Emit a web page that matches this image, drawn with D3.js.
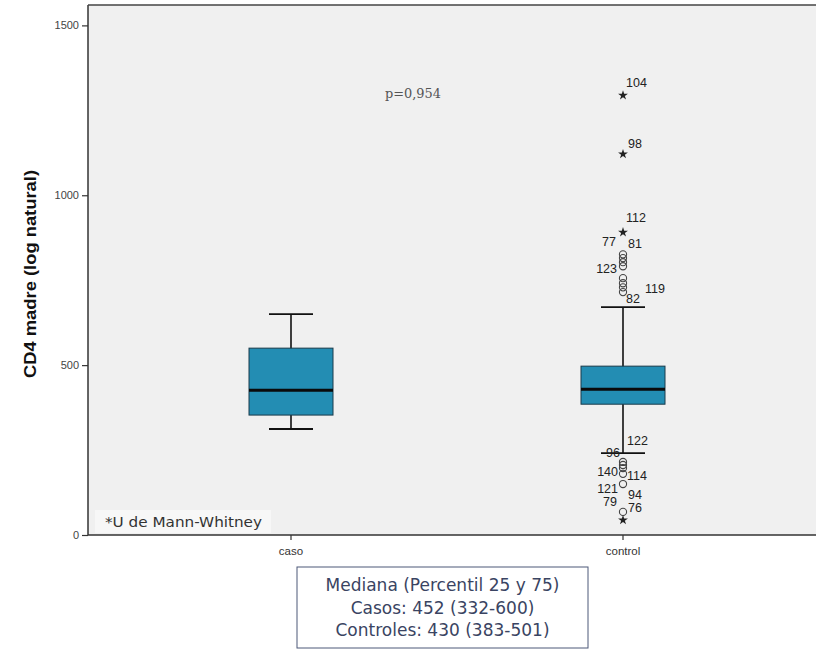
<!DOCTYPE html>
<html>
<head>
<meta charset="utf-8">
<script src="https://cdn.jsdelivr.net/npm/d3@7"></script>
<style>
  body { margin: 0; background: #fff; }
  svg { display: block; }
</style>
</head>
<body>
<div id="root"></div>
<script>
// --- data
const groups = ['caso', 'control'];
const whiskerLow = [312, 241];
const q1 = [353, 385];
const medians = [426, 429];
const q3 = [550, 497];
const whiskerHigh = [650, 671];

// outliers (all in the control group)
const outlierValues = [1294, 1121, 891, 826, 815, 803, 791, 756, 741, 729, 715, 215, 206, 197, 180, 150, 68, 44];
const outlierKinds = ['star', 'star', 'star', 'o', 'o', 'o', 'o', 'o', 'o', 'o', 'o', 'o', 'o', 'o', 'o', 'o', 'o', 'star'];
// [outlier index, case number]
const outlierCases = [[0, '104'], [1, '98'], [2, '112'], [3, '77'], [4, '81'], [6, '123'], [9, '119'], [10, '82'],
    [11, '122'], [11, '96'], [13, '140'], [14, '114'], [15, '121'], [15, '94'], [16, '79'], [17, '76']];

const yTicks = [0, 500, 1000, 1500];
const legendLines = ['Mediana (Percentil 25 y 75)', 'Casos: 452 (332-600)', 'Controles: 430 (383-501)'];

// label layout: side, horizontal gap and vertical shift (px) for each case number
const labelLayout = {
    '104': ['r', 3, -13], '98': ['r', 5, -11], '112': ['r', 3, -15], '77': ['l', 7, -13], '81': ['r', 5, -14],
    '123': ['l', 6, 2], '119': ['r', 22, 1], '82': ['r', 3, 7], '122': ['r', 4, -21], '96': ['l', 3, -9],
    '140': ['l', 5, 4], '114': ['r', 4, 2], '121': ['l', 5, 5], '94': ['r', 5, 11], '79': ['l', 6, -10], '76': ['r', 5, -12]
};

const w = 816, h = 650;
const svg = d3.select('#root').append('svg').attr('width', w).attr('height', h);

const padLeft = 88, padTop = 5, padBottom = 535, padRight = 830;

const y = d3.scaleLinear().domain([0, 1560]).range([padBottom, padTop]);
const x = d3.scaleBand().domain(groups).range([125, 789]).paddingInner(0).paddingOuter(0);
const boxW = 84, capW = 44;

// plot background
svg.append('rect')
    .attr('x', padLeft).attr('y', padTop)
    .attr('width', padRight - padLeft).attr('height', padBottom - padTop)
    .attr('fill', '#f0f0f0');

// note box
svg.append('rect')
    .attr('x', 95).attr('y', 510).attr('width', 176).attr('height', 23)
    .attr('fill', '#f7f7f7');
svg.append('text')
    .attr('x', 105).attr('y', 527)
    .attr('font-family', 'DejaVu Sans, sans-serif')
    .attr('font-size', 14)
    .attr('textLength', 157).attr('lengthAdjust', 'spacingAndGlyphs')
    .attr('fill', '#333')
    .text('*U de Mann-Whitney');

svg.append('text')
    .attr('x', 385).attr('y', 98)
    .attr('font-family', 'DejaVu Serif, serif')
    .attr('font-size', 12.5)
    .attr('textLength', 56).attr('lengthAdjust', 'spacingAndGlyphs')
    .attr('fill', '#555')
    .text('p=0,954');

const cx = d => x(d) + x.bandwidth() / 2;

// boxes
const box = svg.selectAll('g.box').data(groups).enter().append('g').attr('class', 'box');
box.append('line')
    .attr('x1', cx).attr('x2', cx)
    .attr('y1', (d, i) => y(whiskerLow[i])).attr('y2', (d, i) => y(whiskerHigh[i]))
    .attr('stroke', '#111').attr('stroke-width', 1.6);
box.append('line')
    .attr('x1', d => cx(d) - capW / 2).attr('x2', d => cx(d) + capW / 2)
    .attr('y1', (d, i) => y(whiskerLow[i])).attr('y2', (d, i) => y(whiskerLow[i]))
    .attr('stroke', '#111').attr('stroke-width', 1.8);
box.append('line')
    .attr('x1', d => cx(d) - capW / 2).attr('x2', d => cx(d) + capW / 2)
    .attr('y1', (d, i) => y(whiskerHigh[i])).attr('y2', (d, i) => y(whiskerHigh[i]))
    .attr('stroke', '#111').attr('stroke-width', 1.8);
box.append('rect')
    .attr('x', d => cx(d) - boxW / 2)
    .attr('y', (d, i) => y(q3[i]))
    .attr('width', boxW)
    .attr('height', (d, i) => y(q1[i]) - y(q3[i]))
    .attr('fill', '#238db3')
    .attr('stroke', '#1a3a4a').attr('stroke-width', 1);
box.append('line')
    .attr('x1', d => cx(d) - boxW / 2).attr('x2', d => cx(d) + boxW / 2)
    .attr('y1', (d, i) => y(medians[i])).attr('y2', (d, i) => y(medians[i]))
    .attr('stroke', '#0a0a0a').attr('stroke-width', 3);

// outliers
const ox = cx('control');
const star = d3.symbol().type(d3.symbolStar).size(30);
outlierValues.forEach((v, i) => {
    if (outlierKinds[i] === 'star') {
        svg.append('path')
            .attr('d', star())
            .attr('transform', `translate(${ox},${y(v)})`)
            .attr('fill', '#222');
    } else {
        svg.append('circle')
            .attr('cx', ox).attr('cy', y(v)).attr('r', 3.6)
            .attr('fill', 'none').attr('stroke', '#444').attr('stroke-width', 1.1);
    }
});

svg.selectAll('text.case')
    .data(outlierCases)
    .enter()
    .append('text')
    .attr('class', 'case')
    .attr('x', d => {
        const l = labelLayout[d[1]];
        return l[0] === 'r' ? ox + l[1] : ox - l[1];
    })
    .attr('y', d => y(outlierValues[d[0]]) + labelLayout[d[1]][2])
    .attr('dy', '0.35em')
    .attr('text-anchor', d => labelLayout[d[1]][0] === 'r' ? 'start' : 'end')
    .attr('font-family', 'Liberation Sans, Arial, sans-serif')
    .attr('font-size', 12.5)
    .attr('fill', '#222')
    .text(d => d[1]);

// axes
const yAxis = d3.axisLeft(y).tickValues(yTicks).tickFormat(d3.format('d')).tickSize(6).tickSizeOuter(0);
const gy = svg.append('g').attr('transform', `translate(${padLeft},0)`).call(yAxis);
gy.select('.domain').attr('stroke', '#333').attr('stroke-width', 1.5).attr('d', `M0,${padTop}V${padBottom}`);
gy.selectAll('.tick line').attr('stroke', '#333').attr('stroke-width', 1.2);
gy.selectAll('.tick text')
    .attr('font-family', 'Liberation Sans, Arial, sans-serif')
    .attr('font-size', 11).attr('fill', '#444');

const xAxis = d3.axisBottom(x).tickSize(5).tickSizeOuter(0);
const gx = svg.append('g').attr('transform', `translate(0,${padBottom})`).call(xAxis);
gx.select('.domain').attr('stroke', '#333').attr('stroke-width', 1.5).attr('d', `M${padLeft},0H${padRight}`);
gx.selectAll('.tick line').attr('stroke', '#333').attr('stroke-width', 1.2);
gx.selectAll('.tick text')
    .attr('font-family', 'Liberation Sans, Arial, sans-serif')
    .attr('font-size', 11.5).attr('fill', '#333').attr('dy', '1em');

// top frame
svg.append('line')
    .attr('x1', padLeft).attr('x2', padRight).attr('y1', padTop).attr('y2', padTop)
    .attr('stroke', '#444').attr('stroke-width', 1.5);

svg.append('text')
    .attr('text-anchor', 'middle')
    .attr('transform', `translate(36,274)rotate(-90)`)
    .attr('font-family', 'Liberation Sans, Arial, sans-serif')
    .attr('font-size', 16).attr('font-weight', 'bold').attr('fill', '#111')
    .attr('textLength', 208).attr('lengthAdjust', 'spacingAndGlyphs')
    .text('CD4 madre (log natural)');

// legend box
svg.append('rect')
    .attr('x', 297).attr('y', 567).attr('width', 291).attr('height', 81)
    .attr('fill', '#fff').attr('stroke', '#4c5878').attr('stroke-width', 1);
svg.selectAll('text.leg')
    .data(legendLines)
    .enter()
    .append('text')
    .attr('class', 'leg')
    .attr('x', 442.5)
    .attr('y', (d, i) => 591 + i * 22.5)
    .attr('text-anchor', 'middle')
    .attr('font-family', 'DejaVu Sans, sans-serif')
    .attr('font-size', 17)
    .attr('fill', '#3a4462')
    .text(d => d);
</script>
</body>
</html>
